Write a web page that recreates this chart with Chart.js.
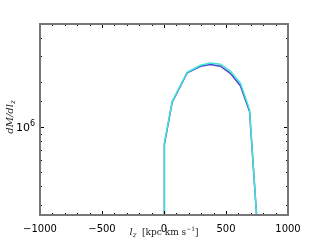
<!DOCTYPE html>
<html>
<head>
<meta charset="utf-8">
<script src="https://cdn.jsdelivr.net/npm/chart.js@4/dist/chart.umd.min.js"></script>
<style>
  html, body { margin: 0; padding: 0; background: #fff; }
  #wrap { width: 320px; height: 240px; position: relative; }
</style>
</head>
<body>
<div id="wrap"><canvas id="c" width="320" height="240"></canvas></div>
<script>
// bin centres (l_z) and dM/dl_z for the overlapping runs
const lzBlue = [0, 3, 66, 187, 294, 374, 455, 535, 616, 690, 755];
const massBlue = [2.0e5, 7.6e5, 1.47e6, 2.32e6, 2.57e6, 2.64e6, 2.57e6, 2.30e6, 1.90e6, 1.27e6, 2.0e5];
const lzCyan = [0, 3, 66, 187, 294, 374, 455, 535, 616, 690, 755];
const massCyan = [2.0e5, 7.8e5, 1.49e6, 2.34e6, 2.61e6, 2.70e6, 2.65e6, 2.38e6, 1.98e6, 1.31e6, 2.0e5];

const xTicks = [-1000, -500, 0, 500, 1000];
const yTickLabels = { 1e6: '10\u2076' };

const pts = (xs, ys) => xs.map((x, i) => ({ x, y: ys[i] }));

// draws a run of [text, font, dy] pieces one after another
function drawPieces(ctx, pieces, x, y) {
  for (const [txt, font, dy] of pieces) {
    ctx.font = font;
    ctx.fillText(txt, x, y + dy);
    x += ctx.measureText(txt).width;
  }
}
function piecesWidth(ctx, pieces) {
  let w = 0;
  for (const [txt, font] of pieces) { ctx.font = font; w += ctx.measureText(txt).width; }
  return w;
}

// matplotlib style frame with inward ticks
const framePlugin = {
  id: 'frame',
  afterDraw(chart) {
    const { ctx, chartArea: a, scales } = chart;
    const xs = scales.x, ys = scales.y;
    ctx.save();
    ctx.strokeStyle = '#000';
    ctx.lineWidth = 1;
    const tick = (x1, y1, x2, y2) => { ctx.beginPath(); ctx.moveTo(x1, y1); ctx.lineTo(x2, y2); ctx.stroke(); };
    for (let v = -1000; v <= 1000; v += 100) {
      const px = Math.round(xs.getPixelForValue(v)) + 0.5;
      const len = v % 500 === 0 ? 4 : 2;
      tick(px, a.bottom, px, a.bottom - len);
      tick(px, a.top, px, a.top + len);
    }
    for (const v of ys.ticks.map(t => t.value)) {
      const py = Math.round(ys.getPixelForValue(v)) + 0.5;
      if (py < a.top || py > a.bottom) continue;
      const len = yTickLabels[v] ? 4 : 2;
      tick(a.left, py, a.left + len, py);
      tick(a.right, py, a.right - len, py);
    }
    ctx.strokeStyle = '#777';
    ctx.lineWidth = 2;
    ctx.strokeRect(a.left, a.top, a.right - a.left, a.bottom - a.top);

    // y tick label
    ctx.fillStyle = '#000';
    ctx.textBaseline = 'alphabetic';
    const py6 = ys.getPixelForValue(1e6);
    const lab = [['10', '11px "DejaVu Sans"', 0], ['6', '8px "DejaVu Sans"', -5]];
    drawPieces(ctx, lab, a.left - 5 - piecesWidth(ctx, lab), py6 + 4);

    // axis titles
    ctx.fillStyle = '#222';
    const xt = [['l', 'italic 10px "DejaVu Serif"', 0], ['z', 'italic 7px "DejaVu Serif"', 2],
                ['  [kpc km s', '9px "DejaVu Serif"', 0], ['\u22121', '6px "DejaVu Serif"', -4],
                [']', '9px "DejaVu Serif"', 0]];
    drawPieces(ctx, xt, 164 - piecesWidth(ctx, xt) / 2, 235);

    const yt = [['dM/dl', 'italic 10px "DejaVu Serif"', 0], ['z', 'italic 7px "DejaVu Serif"', 2]];
    ctx.translate(13, 117);
    ctx.rotate(-Math.PI / 2);
    drawPieces(ctx, yt, -piecesWidth(ctx, yt) / 2, 0);
    ctx.restore();
  }
};

new Chart(document.getElementById('c'), {
  type: 'line',
  data: {
    datasets: [
      { data: pts(lzBlue, massBlue), borderColor: '#4a44d8', borderWidth: 1.5, pointRadius: 0, tension: 0, order: 2 },
      { data: pts(lzCyan, massCyan), borderColor: '#40e4d4', borderWidth: 1.5, pointRadius: 0, tension: 0, order: 1 }
    ]
  },
  options: {
    responsive: false,
    animation: false,
    events: [],
    layout: { padding: { top: 24, right: 32, left: 0, bottom: 0 } },
    plugins: { legend: { display: false }, tooltip: { enabled: false } },
    scales: {
      x: {
        type: 'linear', min: -1000, max: 1000,
        grid: { display: false }, border: { display: false },
        afterBuildTicks: s => { s.ticks = xTicks.map(v => ({ value: v })); },
        afterFit: s => { s.height = 25; },
        ticks: {
          color: '#000', padding: 0, maxRotation: 0,
          font: { family: '"DejaVu Sans"', size: 10 },
          callback: v => String(v).replace('-', '\u2212')
        }
      },
      y: {
        type: 'logarithmic', min: 2.55e5, max: 4.95e6,
        grid: { display: false }, border: { display: false },
        afterFit: s => { s.width = 40; },
        ticks: { display: false, autoSkip: false }
      }
    }
  },
  plugins: [framePlugin]
});
</script>
</body>
</html>
